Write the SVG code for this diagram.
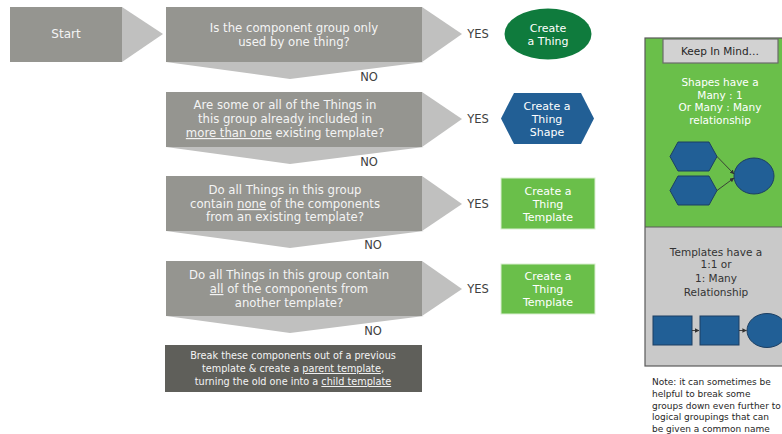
<svg xmlns="http://www.w3.org/2000/svg" width="782" height="434" viewBox="0 0 782 434">
<defs>
<style>
.rect{fill:#959590}
.tri{fill:#c0c0bf}
.t{font-family:"DejaVu Sans",sans-serif;font-size:11.7px;fill:#f4f4f4;text-anchor:middle}
.lbl{font-family:"DejaVu Sans",sans-serif;font-size:11.5px;fill:#404040;text-anchor:middle}
.rt{font-family:"DejaVu Sans",sans-serif;font-size:11px;fill:#ffffff;text-anchor:middle}
.pt{font-family:"DejaVu Sans",sans-serif;font-size:10.5px;text-anchor:middle}
.note{font-family:"DejaVu Sans",sans-serif;font-size:9px;fill:#262626}
.blue{fill:#215f96;stroke:#1d3f62;stroke-width:1}
.con{stroke:#333;stroke-width:0.9;fill:none}
</style>
<marker id="ah" viewBox="0 0 6 6" refX="5.5" refY="3" markerWidth="5" markerHeight="5" orient="auto">
<path d="M0,0 L6,3 L0,6 z" fill="#333"/>
</marker>
</defs>
<rect width="782" height="434" fill="#ffffff"/>

<g id="start">
<polygon class="tri" points="122,7 163,34 122,62"/>
<rect x="10" y="7" width="112" height="55" fill="#959590"/>
<text class="t" x="66" y="38" style="font-size:12px">Start</text>
</g>

<g id="q1">
<polygon class="tri" points="166,62 424,62 290,79"/>
<polygon class="tri" points="422,7 462,34 422,62"/>
<rect class="rect" x="166" y="7" width="256" height="55"/>
<text class="t" x="294" y="32">Is the component group only</text>
<text class="t" x="294" y="46">used by one thing?</text>
</g>

<g id="q2">
<polygon class="tri" points="166,147 424,147 290,164"/>
<polygon class="tri" points="422,92 462,119 422,147"/>
<rect class="rect" x="166" y="92" width="256" height="55"/>
<text class="t" x="285" y="109">Are some or all of the Things in</text>
<text class="t" x="285" y="123">this group already included in</text>
<text class="t" x="285" y="137"><tspan text-decoration="underline">more than one</tspan> existing template?</text>
</g>

<g id="q3">
<polygon class="tri" points="166,231 424,231 290,248"/>
<polygon class="tri" points="422,176 462,204 422,231"/>
<rect class="rect" x="166" y="176" width="256" height="55"/>
<text class="t" x="285" y="194">Do all Things in this group</text>
<text class="t" x="285" y="208">contain <tspan text-decoration="underline">none</tspan> of the components</text>
<text class="t" x="285" y="221">from an existing template?</text>
</g>

<g id="q4">
<polygon class="tri" points="166,316 424,316 290,333"/>
<polygon class="tri" points="422,261 462,289 422,316"/>
<rect class="rect" x="166" y="261" width="256" height="55"/>
<text class="t" x="289" y="279">Do all Things in this group contain</text>
<text class="t" x="289" y="293"><tspan text-decoration="underline">all</tspan> of the components from</text>
<text class="t" x="289" y="307">another template?</text>
</g>

<g id="final">
<rect x="165" y="345" width="257" height="47" fill="#5f5f5a"/>
<text class="t" x="293" y="359" style="font-size:9.7px">Break these components out of a previous</text>
<text class="t" x="293" y="372" style="font-size:9.7px">template &amp; create a <tspan text-decoration="underline">parent template</tspan>,</text>
<text class="t" x="293" y="385" style="font-size:9.7px">turning the old one into a <tspan text-decoration="underline">child template</tspan></text>
</g>

<g id="labels">
<text class="lbl" x="478" y="38">YES</text>
<text class="lbl" x="369" y="81">NO</text>
<text class="lbl" x="478" y="123">YES</text>
<text class="lbl" x="369" y="166">NO</text>
<text class="lbl" x="478" y="208">YES</text>
<text class="lbl" x="373" y="249">NO</text>
<text class="lbl" x="478" y="293">YES</text>
<text class="lbl" x="373" y="335">NO</text>
</g>

<g id="r1">
<ellipse cx="548" cy="34" rx="43.5" ry="25.5" fill="#0f7b3d"/>
<text class="rt" x="548" y="32">Create</text>
<text class="rt" x="548" y="45">a Thing</text>
</g>

<g id="r2">
<polygon points="514,93 581,93 594,118.5 581,144 514,144 501,118.5" fill="#225f95"/>
<text class="rt" x="547" y="110">Create a</text>
<text class="rt" x="547" y="123">Thing</text>
<text class="rt" x="547" y="136">Shape</text>
</g>

<g id="r3">
<rect x="501" y="178" width="94" height="51" fill="#6abf4a" stroke="#d9efd0" stroke-width="1"/>
<text class="rt" x="548" y="195">Create a</text>
<text class="rt" x="548" y="208">Thing</text>
<text class="rt" x="548" y="221">Template</text>
</g>

<g id="r4">
<rect x="501" y="264" width="94" height="50" fill="#6abf4a" stroke="#d9efd0" stroke-width="1"/>
<text class="rt" x="548" y="280">Create a</text>
<text class="rt" x="548" y="293">Thing</text>
<text class="rt" x="548" y="306">Template</text>
</g>

<g id="panel">
<rect x="645" y="38" width="145" height="189" fill="#6abf4a"/>
<rect x="645" y="227" width="145" height="139" fill="#c9c9c9"/>
<rect x="645" y="38" width="145" height="328" fill="none" stroke="#5a5a5a" stroke-width="1.2"/>
<line x1="645" y1="227" x2="790" y2="227" stroke="#5a5a5a" stroke-width="1"/>
</g>

<g id="keep">
<rect x="663" y="39" width="115" height="24" fill="#d2d2d2" stroke="#6b6b6b" stroke-width="1.2"/>
<text class="pt" x="720" y="55" fill="#262626">Keep In Mind…</text>
</g>

<g id="shapes-text">
<text class="pt" x="720" y="86" fill="#ffffff">Shapes have a</text>
<text class="pt" x="720" y="99" fill="#ffffff">Many : 1</text>
<text class="pt" x="720" y="111" fill="#ffffff">Or Many : Many</text>
<text class="pt" x="720" y="124" fill="#ffffff">relationship</text>
</g>

<g id="hex-a"><polygon class="blue" points="678,142 709,142 717,156.5 709,171 678,171 670,156.5"/></g>
<g id="hex-b"><polygon class="blue" points="678,176 709,176 717,190.5 709,205 678,205 670,190.5"/></g>
<g id="ell-a"><ellipse class="blue" cx="754" cy="176" rx="20" ry="18"/></g>

<g id="templates-text">
<text class="pt" x="716" y="256" fill="#333333">Templates have a</text>
<text class="pt" x="716" y="268" fill="#333333">1:1 or</text>
<text class="pt" x="716" y="282" fill="#333333">1: Many</text>
<text class="pt" x="716" y="296" fill="#333333">Relationship</text>
</g>

<g id="sq-a"><rect class="blue" x="653" y="316" width="39" height="29"/></g>
<g id="sq-b"><rect class="blue" x="700" y="316" width="39" height="29"/></g>
<g id="ell-b"><ellipse class="blue" cx="767" cy="330.5" rx="20" ry="17"/></g>

<g id="connectors">
<line class="con" x1="717" y1="156.5" x2="734" y2="174" marker-end="url(#ah)"/>
<line class="con" x1="717" y1="190.5" x2="734" y2="178" marker-end="url(#ah)"/>
<line class="con" x1="692" y1="330.5" x2="699" y2="330.5" marker-end="url(#ah)"/>
<line class="con" x1="739" y1="330.5" x2="746.5" y2="330.5" marker-end="url(#ah)"/>
</g>

<g id="note">
<text class="note" x="652" y="385">Note: it can sometimes be</text>
<text class="note" x="652" y="397">helpful to break some</text>
<text class="note" x="652" y="409">groups down even further to</text>
<text class="note" x="652" y="420">logical groupings that can</text>
<text class="note" x="652" y="432">be given a common name</text>
</g>
</svg>
